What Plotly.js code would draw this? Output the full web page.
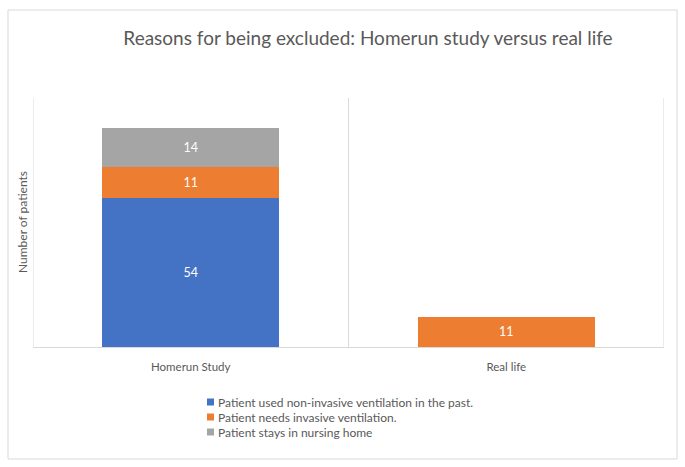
<!DOCTYPE html>
<html>
<head>
<meta charset="utf-8">
<script src="https://cdn.plot.ly/plotly-3.0.1.min.js"></script>
<style>
  html, body { margin: 0; padding: 0; background: #fff; }
  #chart { width: 685px; height: 467px; }
</style>
</head>
<body>
<div id="chart"></div>
<script>
// Data
const categories = ["Homerun Study", "Real life"];
const seriesNames = [
  "Patient used non-invasive ventilation in the past.",
  "Patient needs invasive ventilation.",
  "Patient stays in nursing home",
];
const nonInvasive = [54, null];
const invasive = [11, 11];
const nursingHome = [14, null];
const seriesColors = ["#4472C4", "#ED7D31", "#A5A5A5"];

const FONT = "Lato, 'Open Sans', sans-serif";
const GREY_TEXT = "#595959";

// plot area in pixels, used to place the frame and legend
const PLOT_L = 33, PLOT_R = 664, PLOT_T = 98, PLOT_B = 347;
const px = x => (x - PLOT_L) / (PLOT_R - PLOT_L);
const py = y => (PLOT_B - y) / (PLOT_B - PLOT_T);

function barTrace(name, values, color) {
  return {
    type: "bar",
    name: name,
    x: categories,
    y: values,
    marker: { color: color },
    width: 0.56,
    text: values.map(v => (v == null ? "" : String(v))),
    textposition: "inside",
    insidetextanchor: "middle",
    textfont: { color: "#ffffff", size: 12.5, family: FONT },
    hoverinfo: "x+y+name",
  };
}

const traces = [
  barTrace(seriesNames[0], nonInvasive, seriesColors[0]),
  barTrace(seriesNames[1], invasive, seriesColors[1]),
  barTrace(seriesNames[2], nursingHome, seriesColors[2]),
];

// category separator lines, like the Excel original
const separators = [-0.5, 0.5, 1.5].map(x => ({
  type: "line", xref: "x", yref: "paper",
  x0: x, x1: x, y0: 0, y1: 1,
  line: { color: "#d9d9d9", width: 1 },
  layer: "below",
}));

// hand-made legend so the small Excel-style squares and tight rows match
const legendShapes = [];
const legendNotes = [];
seriesNames.forEach((name, i) => {
  const yc = 402 + i * 15;
  legendShapes.push({
    type: "rect", xref: "paper", yref: "paper",
    x0: px(207), x1: px(214), y0: py(yc + 3.5), y1: py(yc - 3.5),
    fillcolor: seriesColors[i], line: { width: 0 },
  });
  legendNotes.push({
    text: name, xref: "paper", yref: "paper",
    x: px(216), y: py(yc), xanchor: "left", yanchor: "middle",
    showarrow: false,
    font: { family: FONT, size: 12, color: GREY_TEXT },
  });
});

const layout = {
  width: 685,
  height: 467,
  margin: { l: PLOT_L, r: 685 - PLOT_R, t: PLOT_T, b: 467 - PLOT_B },
  paper_bgcolor: "#ffffff",
  plot_bgcolor: "#ffffff",
  font: { family: FONT, color: GREY_TEXT, size: 12 },
  barmode: "stack",
  showlegend: false,
  title: {
    text: "Reasons for being excluded: Homerun study versus real life",
    font: { family: FONT, size: 19, color: GREY_TEXT },
    x: 368 / 685, xref: "container", xanchor: "center",
    y: 1 - 38 / 467, yref: "container", yanchor: "middle",
  },
  xaxis: {
    type: "category",
    range: [-0.5, 1.5],
    showline: true,
    linecolor: "#d9d9d9",
    linewidth: 1,
    ticks: "",
    showgrid: false,
    ticklabelstandoff: 9,
    tickfont: { family: FONT, size: 11.5, color: GREY_TEXT },
    fixedrange: true,
  },
  yaxis: {
    range: [0, 90],
    showticklabels: false,
    showgrid: false,
    zeroline: false,
    showline: false,
    ticks: "",
    fixedrange: true,
  },
  annotations: [{
    text: "Number of patients",
    xref: "paper", yref: "paper",
    x: px(22), y: py(222),
    xanchor: "center", yanchor: "middle",
    textangle: -90,
    showarrow: false,
    font: { family: FONT, size: 12, color: GREY_TEXT },
  }].concat(legendNotes),
  shapes: separators.concat([{
    // outer chart frame
    type: "rect", xref: "paper", yref: "paper",
    x0: px(8), x1: px(677), y0: py(459), y1: py(10),
    line: { color: "#d9d9d9", width: 1 },
    fillcolor: "rgba(0,0,0,0)",
    layer: "below",
  }]).concat(legendShapes),
};

Plotly.newPlot("chart", traces, layout, { displayModeBar: false, staticPlot: true });
</script>
</body>
</html>
